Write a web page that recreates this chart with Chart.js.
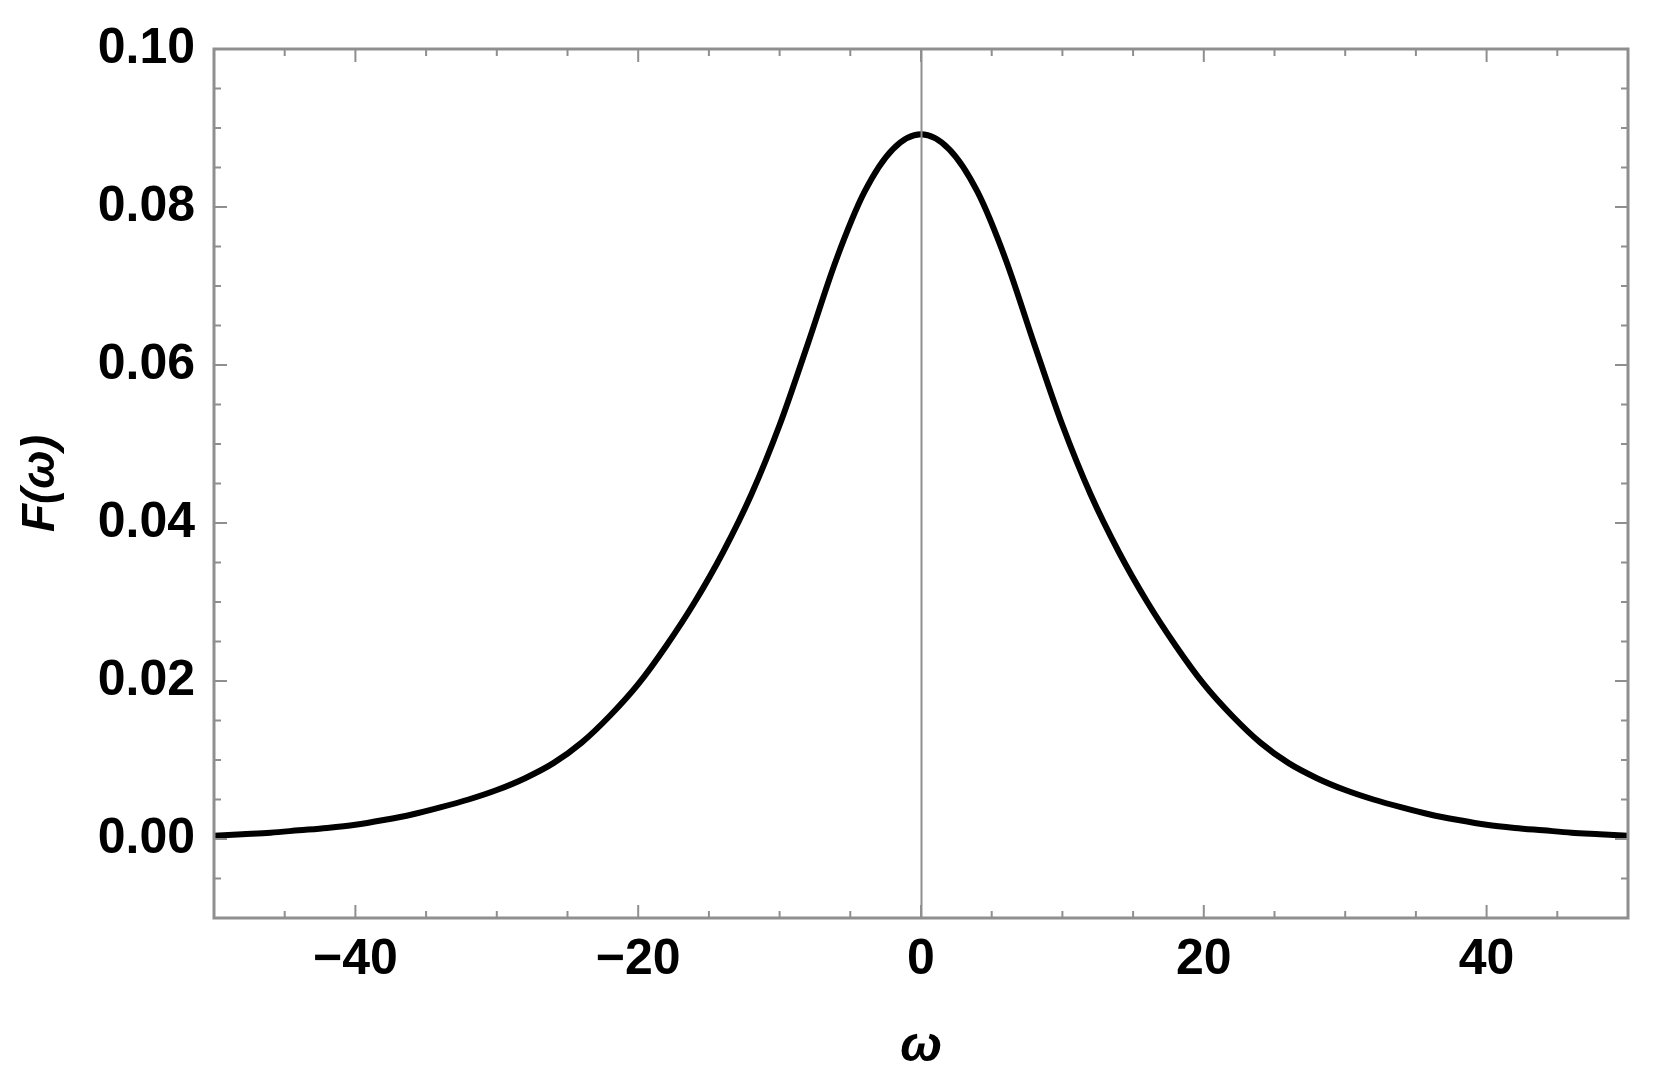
<!DOCTYPE html>
<html>
<head>
<meta charset="utf-8">
<script src="https://cdn.jsdelivr.net/npm/chart.js@4.4.0/dist/chart.umd.min.js"></script>
<style>
  html, body { margin: 0; padding: 0; background: #fff; }
  #wrap { width: 1654px; height: 1089px; }
</style>
</head>
<body>
<div id="wrap"><canvas id="myChart"></canvas></div>
<script>
// omega values and F(omega)
let omega = [-50, -48, -46, -44, -42, -40, -38, -36, -34, -32, -30, -28, -26, -24, -22, -20,
  -18, -16, -14, -12, -10, -8, -6, -4, -2, 0, 2, 4, 6, 8, 10, 12, 14, 16, 18,
  20, 22, 24, 26, 28, 30, 32, 34, 36, 38, 40, 42, 44, 46, 48, 50];

let F = [0.0004, 0.0006, 0.0008, 0.0011, 0.0014, 0.0018, 0.0024, 0.0031, 0.0040, 0.0050, 0.0062, 0.0077, 0.0096, 0.0122, 0.0156, 0.0196,
  0.0245, 0.0300, 0.0363, 0.0436, 0.0524, 0.0627, 0.0733, 0.0819, 0.0873, 0.0892, 0.0873, 0.0819, 0.0733, 0.0627, 0.0524, 0.0436, 0.0363, 0.0300, 0.0245,
  0.0196, 0.0156, 0.0122, 0.0096, 0.0077, 0.0062, 0.0050, 0.0040, 0.0031, 0.0024, 0.0018, 0.0014, 0.0011, 0.0008, 0.0006, 0.0004];

let xTicks = [-40, -20, 0, 20, 40];
let yTicks = [0.00, 0.02, 0.04, 0.06, 0.08, 0.10];

let frameColor = '#8f8f8f';

// frame with inward ticks (all four sides) and the x=0 line
let framePlugin = {
  id: 'frame',
  afterDatasetsDraw(chart) {
    let ctx = chart.ctx;
    let a = chart.chartArea;
    let xs = chart.scales.x, ys = chart.scales.y;
    ctx.save();
    ctx.strokeStyle = frameColor;

    // x = 0 line
    ctx.lineWidth = 2;
    let x0 = Math.round(xs.getPixelForValue(0)) + 0.5;
    ctx.beginPath();
    ctx.moveTo(x0, a.top);
    ctx.lineTo(x0, a.bottom);
    ctx.stroke();

    // ticks
    ctx.lineWidth = 2;
    for (let v = -45; v <= 45; v += 5) {
      let px = xs.getPixelForValue(v);
      let len = (v % 20 === 0) ? 13 : 7;
      ctx.beginPath();
      ctx.moveTo(px, a.bottom); ctx.lineTo(px, a.bottom - len);
      ctx.moveTo(px, a.top); ctx.lineTo(px, a.top + len);
      ctx.stroke();
    }
    for (let i = -1; i <= 19; i++) {
      let v = i * 0.005;
      let py = ys.getPixelForValue(v);
      let len = (i % 4 === 0) ? 13 : 7;
      ctx.beginPath();
      ctx.moveTo(a.left, py); ctx.lineTo(a.left + len, py);
      ctx.moveTo(a.right, py); ctx.lineTo(a.right - len, py);
      ctx.stroke();
    }

    // frame
    ctx.lineWidth = 3;
    ctx.strokeRect(a.left, a.top, a.right - a.left, a.bottom - a.top);
    ctx.restore();
  }
};

let chart1 = new Chart(document.getElementById('myChart').getContext('2d'), {
  type: 'line',
  data: {
    datasets: [{
      data: omega.map((w, i) => ({x: w, y: F[i]})),
      borderColor: '#000',
      borderWidth: 6,
      pointRadius: 0,
      fill: false,
      cubicInterpolationMode: 'monotone'
    }]
  },
  options: {
    responsive: true,
    maintainAspectRatio: false,
    animation: false,
    layout: { padding: { left: 0, right: 26, top: 43, bottom: 0 } },
    plugins: { legend: { display: false }, tooltip: { enabled: false } },
    scales: {
      x: {
        type: 'linear',
        min: -50,
        max: 50,
        afterBuildTicks: s => { s.ticks = xTicks.map(v => ({value: v})); },
        afterFit: s => { s.height = 171; },
        grid: { display: false, drawTicks: false },
        border: { display: false },
        ticks: {
          padding: 12,
          color: '#000',
          font: { family: '"Liberation Sans", Arial, sans-serif', size: 50, weight: 'bold' },
          callback: v => v < 0 ? '\u2212' + Math.abs(v) : String(v)
        },
        title: {
          display: true,
          text: '\u03c9',
          color: '#000',
          font: { family: '"Liberation Sans", Arial, sans-serif', size: 50, style: 'italic', weight: 'bold' },
          padding: { top: 0, bottom: 12 }
        }
      },
      y: {
        type: 'linear',
        min: -0.01,
        max: 0.10,
        afterBuildTicks: s => { s.ticks = yTicks.map(v => ({value: v})); },
        afterFit: s => { s.width = 214; },
        grid: { display: false, drawTicks: false },
        border: { display: false },
        ticks: {
          padding: 19,
          color: '#000',
          font: { family: '"Liberation Sans", Arial, sans-serif', size: 50, weight: 'bold' },
          callback: v => v.toFixed(2)
        },
        title: {
          display: true,
          text: 'F(\u03c9)',
          color: '#000',
          font: { family: '"Liberation Sans", Arial, sans-serif', size: 46, style: 'italic', weight: 'bold' },
          padding: { top: 14, bottom: 0 }
        }
      }
    }
  },
  plugins: [framePlugin]
});
</script>
</body>
</html>
